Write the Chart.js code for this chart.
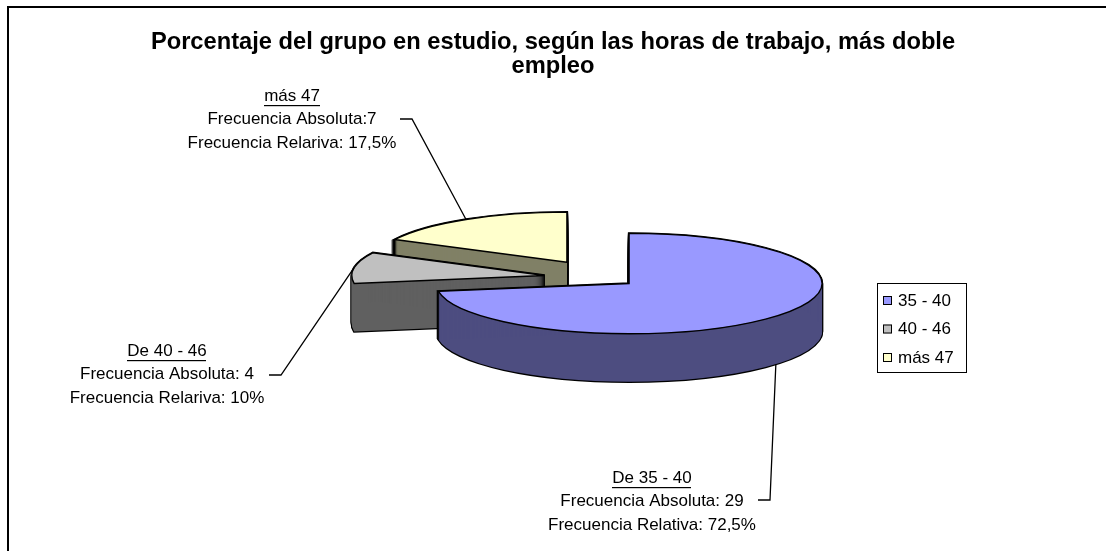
<!DOCTYPE html>
<html>
<head>
<meta charset="utf-8">
<script src="https://cdn.jsdelivr.net/npm/chart.js@4.4.1/dist/chart.umd.min.js"></script>
<style>
  html, body { margin: 0; padding: 0; background: #fff; }
  #wrap { width: 1106px; height: 551px; position: relative; }
</style>
</head>
<body>
<div id="wrap"><canvas id="grafico"></canvas></div>
<script>
// datos
var categorias = ['35 - 40', '40 - 46', 'más 47'];
var frecuencias = [29, 4, 7];
var colores = ['#9999FF', '#C0C0C0', '#FFFFCC'];
var coloresLado = ['#4D4D80', '#606060', '#808066'];
var separacion = [33, 60, 71];   // explosion de cada porcion
var etiquetas = [
    ['De 35 - 40', 'Frecuencia Absoluta: 29', 'Frecuencia Relativa: 72,5%'],
    ['De 40 - 46', 'Frecuencia Absoluta: 4', 'Frecuencia Relariva: 10%'],
    ['más 47', 'Frecuencia Absoluta:7', 'Frecuencia Relariva: 17,5%']
];
var titulo = ['Porcentaje del grupo en estudio, según las horas de trabajo, más doble', 'empleo'];

var FUENTE = "'Liberation Sans', Arial, sans-serif";

// vista 3D
var K = 0.26, PROF = 48;
var CENTRO = { x: 604, y: 278 };
// posicion de los textos (centro) y codo de la linea guia
var posTexto = [{ x: 652, y: 478 }, { x: 167, y: 351 }, { x: 292, y: 96 }];
var codo = [{ x: 770, y: 500 }, { x: 281, y: 375 }, { x: 412, y: 119 }];

function trazoPorcion(ctx, arc, dy) {
    var p = arc.getProps(['x', 'y', 'startAngle', 'endAngle', 'outerRadius'], true);
    var off = arc.options.offset || 0;
    var mid = (p.startAngle + p.endAngle) / 2;
    var cx = p.x + Math.cos(mid) * off, cy = p.y + Math.sin(mid) * off;
    ctx.save();
    ctx.translate(CENTRO.x, CENTRO.y + dy);
    ctx.scale(1, K);
    ctx.translate(-p.x, -p.y);
    ctx.beginPath();
    ctx.moveTo(cx, cy);
    ctx.arc(cx, cy, p.outerRadius, p.startAngle, p.endAngle);
    ctx.closePath();
    ctx.restore();
}

// punto del borde en el angulo medio, en pantalla
function puntoBorde(arc) {
    var p = arc.getProps(['x', 'y', 'startAngle', 'endAngle', 'outerRadius'], true);
    var off = arc.options.offset || 0;
    var mid = (p.startAngle + p.endAngle) / 2;
    var ux = Math.cos(mid) * (off + p.outerRadius);
    var uy = Math.sin(mid) * (off + p.outerRadius);
    var y = CENTRO.y + uy * K;
    if (Math.sin(mid) > 0) y += PROF;   // cara frontal: bajar al borde inferior
    return { x: CENTRO.x + ux, y: y };
}

var torta3d = {
    id: 'torta3d',
    beforeDraw: function (chart) {
        var ctx = chart.ctx;
        ctx.save();
        ctx.fillStyle = '#000';
        ctx.fillRect(7, 6, 2, 545);
        ctx.fillRect(7, 6, 1099, 2);
        ctx.restore();
    },
    beforeDatasetDraw: function (chart, args) {
        var ctx = chart.ctx;
        var arcs = args.meta.data;
        ctx.save();
        [2, 1, 0].forEach(function (i) {
            var arc = arcs[i];
            var d;
            for (d = 0; d <= PROF; d++) {
                trazoPorcion(ctx, arc, d);
                ctx.lineWidth = 2.4;
                ctx.strokeStyle = '#000';
                ctx.stroke();
            }
            for (d = 0; d <= PROF; d++) {
                trazoPorcion(ctx, arc, d);
                ctx.fillStyle = coloresLado[i];
                ctx.fill();
            }
            trazoPorcion(ctx, arc, 0);
            ctx.fillStyle = colores[i];
            ctx.fill();
            ctx.lineWidth = 1.4;
            ctx.strokeStyle = '#000';
            ctx.stroke();
        });
        ctx.restore();
        return false;
    },
    afterDraw: function (chart) {
        var ctx = chart.ctx;
        var arcs = chart.getDatasetMeta(0).data;
        ctx.save();
        ctx.font = '17px ' + FUENTE;
        ctx.fillStyle = '#000';
        ctx.textAlign = 'center';
        ctx.textBaseline = 'middle';
        // etiquetas con linea guia
        etiquetas.forEach(function (lineas, i) {
            var t = posTexto[i];
            lineas.forEach(function (txt, j) {
                ctx.fillText(txt, t.x, t.y + j * 23.5);
            });
            var w = ctx.measureText(lineas[0]).width;
            ctx.fillRect(Math.round(t.x - w / 2), t.y + 9, Math.round(w), 1.2);

            var a = puntoBorde(arcs[i]);
            ctx.beginPath();
            ctx.moveTo(codo[i].x - 12, codo[i].y);
            ctx.lineTo(codo[i].x, codo[i].y);
            ctx.lineTo(a.x, a.y);
            ctx.lineWidth = 1.3;
            ctx.strokeStyle = '#000';
            ctx.stroke();
        });
        // leyenda
        ctx.lineWidth = 1;
        ctx.strokeRect(877.5, 283.5, 89, 89);
        ctx.textAlign = 'left';
        categorias.forEach(function (c, i) {
            var y = 300 + i * 28.5;
            ctx.fillStyle = colores[i];
            ctx.fillRect(883, y - 4, 9, 9);
            ctx.strokeRect(883.5, y - 3.5, 8, 8);
            ctx.fillStyle = '#000';
            ctx.fillText(c, 898, y + 1);
        });
        ctx.restore();
    }
};

new Chart(document.getElementById('grafico'), {
    type: 'pie',
    data: {
        labels: categorias,
        datasets: [{
            data: frecuencias,
            backgroundColor: colores,
            borderColor: '#000',
            borderWidth: 1,
            offset: separacion,
            radius: 193
        }]
    },
    options: {
        responsive: true,
        maintainAspectRatio: false,
        animation: false,
        devicePixelRatio: 1,
        events: [],
        plugins: {
            legend: { display: false },
            tooltip: { enabled: false },
            title: {
                display: true,
                text: titulo,
                color: '#000',
                font: { family: FUENTE, size: 23.7, weight: 'bold', lineHeight: 1.02 },
                padding: { top: 30, bottom: 10 }
            }
        }
    },
    plugins: [torta3d]
});
</script>
</body>
</html>
